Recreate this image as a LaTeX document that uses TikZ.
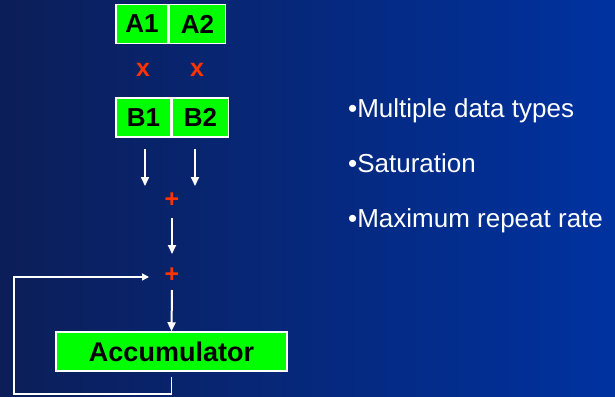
\documentclass[tikz,border=0pt]{standalone}
\usepackage{fontspec}
\setmainfont{Liberation Sans}
\usetikzlibrary{positioning, arrows.meta}

\definecolor{bgleft}{RGB}{12,30,88}
\definecolor{bgright}{RGB}{0,50,160}
\definecolor{regfill}{RGB}{0,255,0}
\definecolor{opred}{RGB}{255,51,0}

\tikzset{
  reg/.style={draw=white, line width=1.5pt, fill=regfill, inner sep=0pt,
    minimum height=39pt, font=\fontsize{26}{28}\selectfont\bfseries},
  op/.style={text=opred, font=\fontsize{25}{26}\selectfont\bfseries, inner sep=0pt},
  flow/.style={draw=white, line width=2pt, -{Triangle[width=8pt,length=9pt]}},
  loopline/.style={draw=white, line width=1.5pt, -{Triangle[width=7pt,length=7pt]}},
  bullet/.style={text=white, anchor=base west, inner sep=0pt,
    font=\fontsize{26}{28}\selectfont}
}

\begin{document}
\begin{tikzpicture}[x=1pt, y=-1pt]
  % Background
  \useasboundingbox (0,0) rectangle (615,396);
  \shade[left color=bgleft, right color=bgright] (0,0) rectangle (615,396);
  % Operand registers
  \node[reg, minimum width=52pt] (A1) at (142,24) {A1};
  \node[reg, minimum width=56pt, anchor=west] (A2) at (A1.east) {A2};
  \node[reg, minimum width=55pt] (B1) at (143.5,117.5) {B1};
  \node[reg, minimum width=56pt, anchor=west] (B2) at (B1.east) {B2};
  % Multiply signs
  \node[op] (mul1) at (143,70) {x};
  \node[op] (mul2) at (197,70) {x};
  % Adders
  \node[op] (add1) at (172,200) {+};
  \node[op] (add2) at (172,275) {+};
  % Accumulator
  \node[reg, minimum width=231pt, font=\fontsize{27}{28}\selectfont\bfseries] (acc) at (171.5,351.5) {Accumulator};
  % Arrows
  \coordinate (p1) at (145,149);
  \coordinate (p2) at (195,149);
  \coordinate (q1) at (145,186);
  \coordinate (q2) at (195,186);
  \coordinate (s1) at (172,218);
  \coordinate (e1) at (172,254);
  \coordinate (s2) at (172,290);
  \draw[flow] (p1) -- (q1);
  \draw[flow] (p2) -- (q2);
  \draw[flow] (s1) -- (e1);
  \draw[flow] (s2) -- (acc.north);
  % Feedback loop
  \coordinate (fb) at (149,277);
  \draw[loopline] ([yshift=-5pt]acc.south) |- (14,394) |- (fb);
  % Notes
  \node[bullet] (t1) at (348,117) {•Multiple data types};
  \node[bullet] (t2) at (348,172) {•Saturation};
  \node[bullet] (t3) at (348,227) {•Maximum repeat rate};
\end{tikzpicture}
\end{document}
